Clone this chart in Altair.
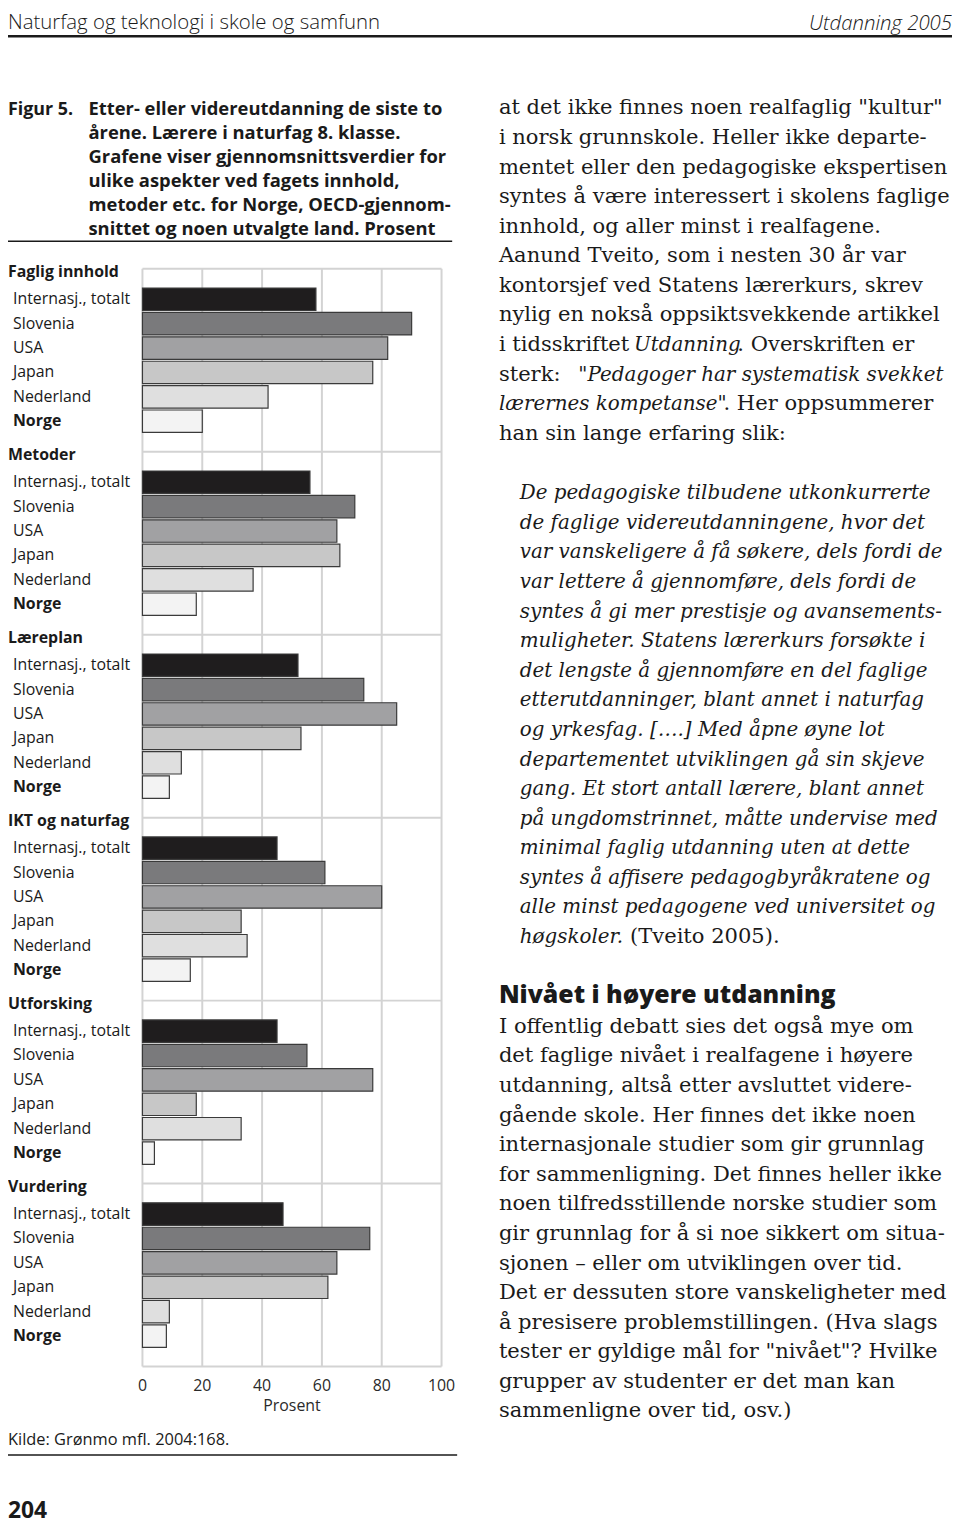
import altair as alt
import pandas as pd

# ---------------- data ----------------
groups = ["Faglig innhold", "Metoder", "Læreplan", "IKT og naturfag", "Utforsking", "Vurdering"]
countries = ["Internasj., totalt", "Slovenia", "USA", "Japan", "Nederland", "Norge"]
faglig_innhold = [58, 90, 82, 77, 42, 20]
metoder = [56, 71, 65, 66, 37, 18]
laereplan = [52, 74, 85, 53, 13, 9]
ikt_og_naturfag = [45, 61, 80, 33, 35, 16]
utforsking = [45, 55, 77, 18, 33, 4]
vurdering = [47, 76, 65, 62, 9, 8]
tick_values = [0, 20, 40, 60, 80, 100]
tick_labels = ["0", "20", "40", "60", "80", "100"]
bar_colors = ["#1f1d1e", "#7a7a7c", "#a1a1a3", "#c7c7c7", "#dfdfdf", "#f3f3f3"]

header_left = "Naturfag og teknologi i skole og samfunn"
header_right = "Utdanning 2005"
caption_label = "Figur 5."
caption_lines = [
    "Etter- eller videreutdanning de siste to",
    "årene. Lærere i naturfag 8. klasse.",
    "Grafene viser gjennomsnittsverdier for",
    "ulike aspekter ved fagets innhold,",
    "metoder etc. for Norge, OECD-gjennom-",
    "snittet og noen utvalgte land. Prosent",
]
axis_title = "Prosent"
source_text = "Kilde: Grønmo mfl. 2004:168."
page_number = "204"

body1_lines = [
    'at det ikke finnes noen realfaglig "kultur"',
    "i norsk grunnskole. Heller ikke departe-",
    "mentet eller den pedagogiske ekspertisen",
    "syntes å være interessert i skolens faglige",
    "innhold, og aller minst i realfagene.",
    "Aanund Tveito, som i nesten 30 år var",
    "kontorsjef ved Statens lærerkurs, skrev",
    "nylig en nokså oppsiktsvekkende artikkel",
]
body1_mixed = [
    [("i tidsskriftet ", "normal", 0), ("Utdanning", "italic", 136), (". Overskriften er", "normal", 240)],
    [("sterk: ", "normal", 0), ('"Pedagoger har systematisk svekket', "italic", 80)],
    [('lærernes kompetanse"', "italic", 0), (". Her oppsummerer", "normal", 226)],
]
body1_last = ["han sin lange erfaring slik:"]

quote_lines = [
    "De pedagogiske tilbudene utkonkurrerte",
    "de faglige videreutdanningene, hvor det",
    "var vanskeligere å få søkere, dels fordi de",
    "var lettere å gjennomføre, dels fordi de",
    "syntes å gi mer prestisje og avansements-",
    "muligheter. Statens lærerkurs forsøkte i",
    "det lengste å gjennomføre en del faglige",
    "etterutdanninger, blant annet i naturfag",
    "og yrkesfag. [….] Med åpne øyne lot",
    "departementet utviklingen gå sin skjeve",
    "gang. Et stort antall lærere, blant annet",
    "på ungdomstrinnet, måtte undervise med",
    "minimal faglig utdanning uten at dette",
    "syntes å affisere pedagogbyråkratene og",
    "alle minst pedagogene ved universitet og",
]
quote_last = [("høgskoler.", "italic", 0), ("(Tveito 2005).", "normal", 111)]

heading2 = "Nivået i høyere utdanning"
body2_lines = [
    "I offentlig debatt sies det også mye om",
    "det faglige nivået i realfagene i høyere",
    "utdanning, altså etter avsluttet videre-",
    "gående skole. Her finnes det ikke noen",
    "internasjonale studier som gir grunnlag",
    "for sammenligning. Det finnes heller ikke",
    "noen tilfredsstillende norske studier som",
    "gir grunnlag for å si noe sikkert om situa-",
    "sjonen – eller om utviklingen over tid.",
    "Det er dessuten store vanskeligheter med",
    "å presisere problemstillingen. (Hva slags",
    'tester er gyldige mål for "nivået"? Hvilke',
    "grupper av studenter er det man kan",
    "sammenligne over tid, osv.)",
]

# ---------------- styling ----------------
SANS = "Open Sans"
SERIF = "DejaVu Serif"
TXT = "#1a1a1a"
GRID = "#d3d3d3"
BODY_SIZE = 21.2
ITAL_SIZE = 20
BODY_LH = 29.78

W, H = 950, 1518

# ---------------- tables ----------------
series = [faglig_innhold, metoder, laereplan, ikt_og_naturfag, utforsking, vurdering]
rows = []
for g, (grp, vals) in enumerate(zip(groups, series)):
    for r, (c, v) in enumerate(zip(countries, vals)):
        slot = g * 7.5 + r
        rows.append(dict(group=grp, country=c, value=v, slot=slot,
                         top=slot - 0.46, bot=slot + 0.46, zero=0))
bars = pd.DataFrame(rows)
heads = pd.DataFrame({"group": groups, "hs": [g * 7.5 - 1.1 for g in range(len(groups))]})
frame_y = [g * 7.5 - 1.25 for g in range(len(groups))] + [(len(groups) - 1) * 7.5 + 5 + 1.25]
hlines = pd.DataFrame({"s": frame_y, "a": 0, "b": 100})
grid = pd.DataFrame({"tick": tick_values, "lab": tick_labels, "y0": frame_y[0], "y1": frame_y[-1]})

XS = alt.Scale(domain=[0, 100], range=[135.3, 436.3], nice=False, zero=False)
YS = alt.Scale(domain=[-2, 48], range=[239.2, 1466.7], nice=False, zero=False)

layers = []

layers.append(alt.Chart(grid).mark_rule(color=GRID, strokeWidth=2).encode(
    x=alt.X("tick:Q", scale=XS, axis=None),
    y=alt.Y("y0:Q", scale=YS, axis=None), y2="y1:Q"))
layers.append(alt.Chart(hlines).mark_rule(color=GRID, strokeWidth=2).encode(
    x=alt.X("a:Q", scale=XS, axis=None), x2="b:Q",
    y=alt.Y("s:Q", scale=YS, axis=None)))
layers.append(alt.Chart(bars).mark_rect(stroke="#3a3a3a", strokeWidth=1.2).encode(
    x=alt.X("zero:Q", scale=XS, axis=None), x2="value:Q",
    y=alt.Y("top:Q", scale=YS, axis=None), y2="bot:Q",
    fill=alt.Fill("country:N", scale=alt.Scale(domain=countries, range=bar_colors), legend=None)))
layers.append(alt.Chart(bars).transform_filter(alt.datum.country != "Norge").mark_text(
    align="left", baseline="middle", font=SANS, fontSize=16, color=TXT).encode(
    x=alt.value(5), y=alt.Y("slot:Q", scale=YS, axis=None), text="country:N"))
layers.append(alt.Chart(bars).transform_filter(alt.datum.country == "Norge").mark_text(
    align="left", baseline="middle", font=SANS, fontSize=16, fontWeight="bold", color=TXT).encode(
    x=alt.value(5), y=alt.Y("slot:Q", scale=YS, axis=None), text="country:N"))
layers.append(alt.Chart(heads).mark_text(
    align="left", baseline="middle", font=SANS, fontSize=16, fontWeight="bold", color=TXT).encode(
    x=alt.value(0), y=alt.Y("hs:Q", scale=YS, axis=None), text="group:N"))
layers.append(alt.Chart(grid).mark_text(
    align="center", baseline="middle", font=SANS, fontSize=16, color="#2a2a2a").encode(
    x=alt.X("tick:Q", scale=XS, axis=None), y=alt.value(1382), text="lab:N"))
layers.append(alt.Chart(pd.DataFrame({"p": [50], "t": [axis_title]})).mark_text(
    align="center", baseline="middle", font=SANS, fontSize=16, color="#2a2a2a").encode(
    x=alt.X("p:Q", scale=XS, axis=None), y=alt.value(1402), text="t:N"))


def block(lines, x, y, size, font, weight="normal", style="normal", lh=None, align="left", color=TXT):
    df = pd.DataFrame({"t": ["\n".join(lines)]})
    return alt.Chart(df).mark_text(
        align=align, baseline="alphabetic", font=font, fontSize=size, fontWeight=weight,
        fontStyle=style, lineBreak="\n", lineHeight=lh or size * 1.2, color=color).encode(
        x=alt.value(x), y=alt.value(y), text="t:N")


def hrule(x1, x2, y, w, color="#1a1a1a"):
    df = pd.DataFrame({"k": [0]})
    return alt.Chart(df).mark_rule(color=color, strokeWidth=w).encode(
        x=alt.value(x1), x2=alt.value(x2), y=alt.value(y))


# page header
layers.append(block([header_left], 0, 16.5, 20.5, SANS, weight=300))
layers.append(block([header_right], W, 17, 20.5, SANS, weight=300, style="italic", align="right"))
layers.append(hrule(0, W, 23.5, 2.5))

# caption
layers.append(block([caption_label], 0, 102.7, 18, SANS, weight="bold"))
layers.append(block(caption_lines, 81, 102.7, 18.5, SANS, weight="bold", lh=24.2))
layers.append(hrule(0, 447, 230, 1.5))

# source and bottom rule
layers.append(block([source_text], 0, 1441, 16.5, SANS))
layers.append(hrule(0, 452, 1451.3, 1.5))
layers.append(block([page_number], 0, 1515, 23, SANS, weight="bold"))

# right column body text
X_BODY = 494
Y1 = 102.2
layers.append(block(body1_lines, X_BODY, Y1, BODY_SIZE, SERIF, lh=BODY_LH))
for i, segs in enumerate(body1_mixed):
    yy = Y1 + (len(body1_lines) + i) * BODY_LH
    for txt, st, dx in segs:
        size = ITAL_SIZE if st == "italic" else BODY_SIZE
        layers.append(block([txt], X_BODY + dx, yy, size, SERIF, style=st))
layers.append(block(body1_last, X_BODY, Y1 + (len(body1_lines) + 3) * BODY_LH, BODY_SIZE, SERIF))

X_Q = 515
YQ = 489.5
layers.append(block(quote_lines, X_Q, YQ, ITAL_SIZE, SERIF, style="italic", lh=BODY_LH))
for txt, st, dx in quote_last:
    size = ITAL_SIZE if st == "italic" else BODY_SIZE
    layers.append(block([txt], X_Q + dx, YQ + len(quote_lines) * BODY_LH, size, SERIF, style=st))

layers.append(block([heading2], X_BODY, 997, 25, SANS, weight=800))
layers.append(block(body2_lines, X_BODY, 1026.5, BODY_SIZE, SERIF, lh=BODY_LH))

chart = alt.layer(*layers).properties(
    width=W, height=H, autosize="none", padding=0, background="white"
).configure_view(stroke=None)

chart.save("out.html", embed_options={"renderer": "svg", "actions": False})
